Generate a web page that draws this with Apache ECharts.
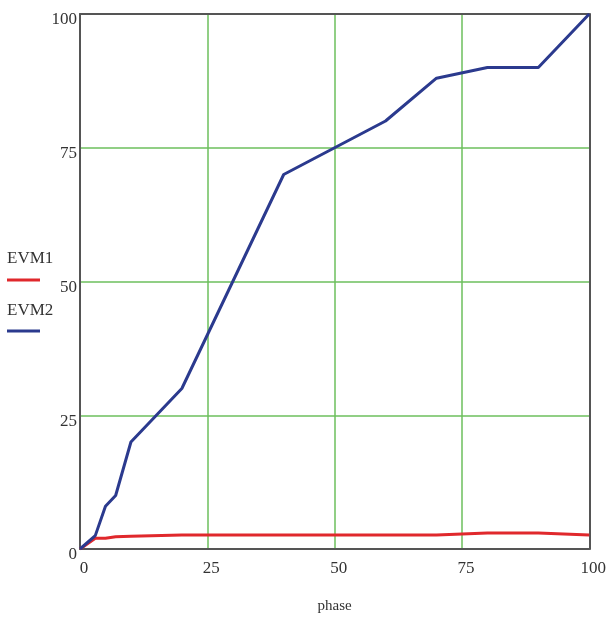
<!DOCTYPE html>
<html><head><meta charset="utf-8">
<script src="https://cdn.jsdelivr.net/npm/echarts@6/dist/echarts.min.js"></script>
<style>html,body{margin:0;padding:0;background:#fff}#c{width:609px;height:619px}</style>
</head><body><div id="c"></div>
<script>
const phase = [0, 3, 5, 7, 10, 20, 40, 50, 60, 70, 80, 90, 100];
const evm1 = [0, 2, 2, 2.3, 2.4, 2.6, 2.6, 2.6, 2.6, 2.6, 3, 3, 2.6];
const evm2 = [0, 2.5, 8, 10, 20, 30, 70, 75, 80, 88, 90, 90, 100];
const xTicks = [0, 25, 50, 75, 100];
const yTicks = [0, 25, 50, 75, 100];
const seriesNames = ['EVM1', 'EVM2'];
const colors = ['#e0282c', '#2b3a8e'];

const font = '"Liberation Serif", "DejaVu Serif", serif';
const axisDark = {show: true, onZero: false, lineStyle: {color: '#555', width: 2}};
const green = {color: '#6cbf5c', width: 1.5};
const chart = echarts.init(document.getElementById('c'), null, {renderer: 'canvas'});
chart.setOption({
  animation: false,
  backgroundColor: '#fff',
  grid: {left: 80, right: 17, top: 14, bottom: 70},
  xAxis: [{
    type: 'value', min: 0, max: 100, interval: 25,
    name: 'phase', nameLocation: 'middle', nameGap: 50,
    nameTextStyle: {fontFamily: font, fontSize: 15, color: '#333'},
    axisLine: axisDark,
    axisTick: {show: false},
    axisLabel: {fontFamily: font, fontSize: 17, color: '#333', margin: 11, padding: [0, 0, 0, 8]},
    splitLine: {show: true, showMinLine: false, showMaxLine: false, lineStyle: green}
  }, {
    type: 'value', min: 0, max: 100, interval: 25, position: 'top',
    axisLine: axisDark, axisTick: {show: false}, axisLabel: {show: false}, splitLine: {show: false}
  }],
  yAxis: [{
    type: 'value', min: 0, max: 100, interval: 25,
    axisLine: axisDark,
    axisTick: {show: false},
    axisLabel: {fontFamily: font, fontSize: 17, color: '#333', margin: 3, verticalAlign: 'top', lineHeight: 12},
    splitLine: {show: true, showMinLine: false, showMaxLine: false, lineStyle: green}
  }, {
    type: 'value', min: 0, max: 100, interval: 25, position: 'right',
    axisLine: axisDark, axisTick: {show: false}, axisLabel: {show: false}, splitLine: {show: false}
  }],
  series: [
    {name: seriesNames[0], type: 'line', data: phase.map((p, i) => [p, evm1[i]]), showSymbol: false,
     lineStyle: {color: colors[0], width: 3}, z: 3},
    {name: seriesNames[1], type: 'line', data: phase.map((p, i) => [p, evm2[i]]), showSymbol: false,
     lineStyle: {color: colors[1], width: 3}, z: 4}
  ],
  graphic: [
    {type: 'text', left: 7, top: 250, style: {text: seriesNames[0], font: '17px ' + font, fill: '#333'}},
    {type: 'line', shape: {x1: 7, y1: 280, x2: 40, y2: 280}, style: {stroke: colors[0], lineWidth: 3}},
    {type: 'text', left: 7, top: 302, style: {text: seriesNames[1], font: '17px ' + font, fill: '#333'}},
    {type: 'line', shape: {x1: 7, y1: 331, x2: 40, y2: 331}, style: {stroke: colors[1], lineWidth: 3}}
  ]
});
</script></body></html>
